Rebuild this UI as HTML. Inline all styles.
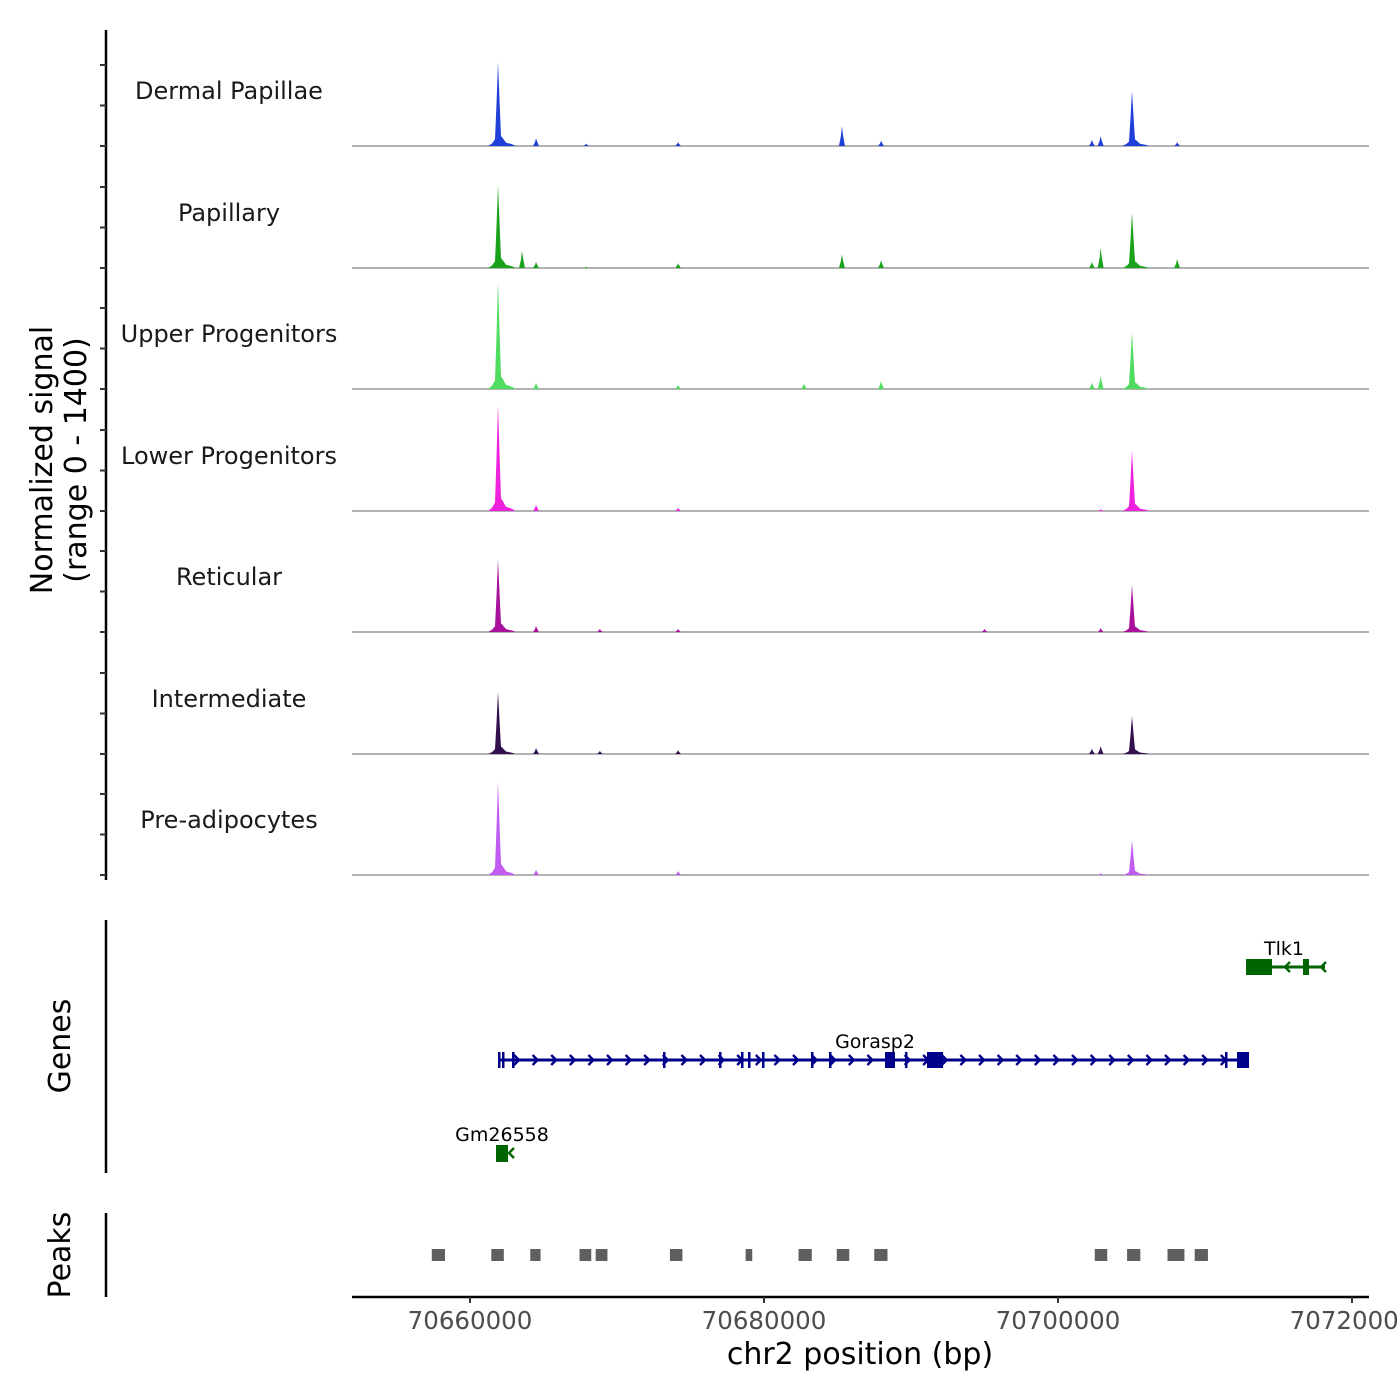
<!DOCTYPE html>
<html><head><meta charset="utf-8"><style>
html,body{margin:0;padding:0;background:#fff;}
svg{display:block;font-family:"DejaVu Sans","Liberation Sans",sans-serif;}
</style></head><body>
<svg id="chart" width="1400" height="1400" viewBox="0 0 1400 1400" xmlns="http://www.w3.org/2000/svg">
<g id="tracks"></g>
<g id="genes"></g>
<g id="peaks"></g>
<g id="axes"></g>
</svg>
<script>
const trackNames = ["Dermal Papillae","Papillary","Upper Progenitors","Lower Progenitors","Reticular","Intermediate","Pre-adipocytes"];
const trackColors = ["#1f3fd9","#1aa31a","#4fdc5f","#ee22dd","#a8119c","#34104f","#c05cf2"];
const peakPositions = [70661905,70663540,70664490,70667900,70668830,70674150,70682720,70685300,70687960,70695000,70702300,70702900,70705034,70708100];
const dermalPapillae = [970,0,90,25,0,45,0,230,60,0,70,115,640,45];
const papillary = [960,200,70,15,0,55,0,160,90,0,70,230,640,105];
const upperProgenitors = [1240,0,70,0,0,45,60,0,90,0,70,150,660,0];
const lowerProgenitors = [1230,0,70,0,0,35,0,0,0,0,0,20,700,0];
const reticular = [840,0,70,0,35,35,0,0,0,35,0,45,545,0];
const intermediate = [720,0,70,0,35,45,0,0,0,0,60,90,440,0];
const preAdipocytes = [1075,0,60,0,0,45,0,0,0,0,0,20,400,0];
const signals = [dermalPapillae,papillary,upperProgenitors,lowerProgenitors,reticular,intermediate,preAdipocytes];
const xTicks = [70660000,70680000,70700000,70720000];
const peakRegions = [[70657400,70658300],[70661450,70662300],[70664100,70664800],[70667450,70668250],[70668550,70669350],[70673600,70674450],[70678750,70679200],[70682350,70683250],[70684950,70685800],[70687500,70688400],[70702500,70703350],[70704700,70705600],[70707450,70708600],[70709300,70710200]];

const NS="http://www.w3.org/2000/svg";
function el(tag,attrs,parent,text){const e=document.createElementNS(NS,tag);for(const k in attrs)e.setAttribute(k,attrs[k]);if(text!==undefined)e.textContent=text;parent.appendChild(e);return e;}
const X=bp=>470+(bp-70660000)*294/20000;
const baselines=[146,268,389,511,632,754,875];
const Y=(v,b)=>b-v*121/1400;

const tg=document.getElementById('tracks');
signals.forEach((vals,t)=>{
  const b=baselines[t];const c=trackColors[t];
  const g=el('g',{},tg);
  
  
  const lab=el('text',{x:229,y:b-47,'text-anchor':'middle','font-size':24,fill:'#1a1a1a'},g,trackNames[t]);
  
  
  const base=el('line',{x1:352,x2:1369,y1:b,y2:b,stroke:'#666','stroke-width':1},g);
  
  
  vals.forEach((v,i)=>{
    if(v<=0)return;
    const x=X(peakPositions[i]);const h=b-Y(v,b);
    let pts;
    if(v>300){
      pts=[[x-10,0],[x-6,h*0.03],[x-3,h*0.08],[x-1.5,h*0.5],[x,h],[x+1,h*0.7],[x+2,h*0.4],[x+3,h*0.12],[x+5,h*0.09],[x+8,h*0.04],[x+14,h*0.02],[x+18,0]];
    } else {
      pts=[[x-3,0],[x-1,h*0.5],[x,h],[x+1,h*0.6],[x+3,0]];
    }
    const p=el('polygon',{points:pts.map(q=>q[0].toFixed(1)+','+(b-q[1]).toFixed(1)).join(' '),fill:c},g);
    
    
  });
});

// genes
const gg=document.getElementById('genes');
const navy="#00008b",green="#006400";
function chev(parent,x,y,dir,c){el('polyline',{points:`${x-3*dir},${y-5} ${x+2*dir},${y} ${x-3*dir},${y+5}`,fill:'none',stroke:c,'stroke-width':2.4},parent);}
const gor=el('g',{},gg);


el('line',{x1:498,x2:1245,y1:1060,y2:1060,stroke:navy,'stroke-width':3},gor);
for(let x=517;x<1230;x+=18.6)chev(gor,x,1060,1,navy);
[499,503,513,664,720,742,749,763,812,830,906,1226].forEach(x=>el('rect',{x:x-1,y:1052,width:2.5,height:16,fill:navy},gor));
[[885,10],[927,16],[1237,12]].forEach(r=>el('rect',{x:r[0],y:1052,width:r[1],height:16,fill:navy},gor));
el('text',{x:875,y:1048,'text-anchor':'middle','font-size':19,fill:'#000'},gor,'Gorasp2');
const tlk=el('g',{},gg);


el('line',{x1:1247,x2:1325,y1:967,y2:967,stroke:green,'stroke-width':3},tlk);
el('rect',{x:1246,y:959,width:26,height:16,fill:green},tlk);
el('rect',{x:1303,y:959,width:6,height:16,fill:green},tlk);
[1287,1323].forEach(x=>chev(tlk,x,967,-1,green));
el('text',{x:1284,y:955,'text-anchor':'middle','font-size':19,fill:'#000'},tlk,'Tlk1');
const gm=el('g',{},gg);


el('rect',{x:496,y:1145,width:12,height:17,fill:green},gm);
chev(gm,511,1153,-1,green);
el('text',{x:502,y:1141,'text-anchor':'middle','font-size':19,fill:'#000'},gm,'Gm26558');

// peaks
const pg=document.getElementById('peaks');
peakRegions.forEach(r=>{
  const rr=el('rect',{x:X(r[0]),y:1249,width:Math.max(X(r[1])-X(r[0]),6),height:12,fill:'#5f5f5f'},pg);
  
  
});

// axes
const ag=document.getElementById('axes');
const yl=el('line',{x1:106,x2:106,y1:30,y2:880,stroke:'#000','stroke-width':2.5},ag);


for(let t=0;t<7;t++){const b=baselines[t];for(let k=0;k<3;k++){el('line',{x1:100,x2:106,y1:b-k*40.5,y2:b-k*40.5,stroke:'#333','stroke-width':2},ag);}}
const gl=el('line',{x1:106,x2:106,y1:920,y2:1173,stroke:'#000','stroke-width':2.5},ag);


const pl=el('line',{x1:106,x2:106,y1:1213,y2:1297,stroke:'#000','stroke-width':2.5},ag);


const xl=el('line',{x1:352,x2:1369,y1:1297,y2:1297,stroke:'#000','stroke-width':2.5},ag);


xTicks.forEach(v=>{
  const x=X(v);
  el('line',{x1:x,x2:x,y1:1297,y2:1303,stroke:'#333','stroke-width':2},ag);
  const t=el('text',{x:x,y:1329,'text-anchor':'middle','font-size':24.5,fill:'#4d4d4d'},ag,String(v));
  
  
});
const xt=el('text',{x:860,y:1364,'text-anchor':'middle','font-size':30,fill:'#000'},ag,'chr2 position (bp)');


const yt=el('text',{transform:'translate(52,460) rotate(-90)','text-anchor':'middle','font-size':30,fill:'#000'},ag);


el('tspan',{x:0,dy:0},yt,'Normalized signal');
el('tspan',{x:0,dy:34},yt,'(range 0 - 1400)');
const gt=el('text',{transform:'translate(70,1046) rotate(-90)','text-anchor':'middle','font-size':30,fill:'#000'},ag,'Genes');


const ptt=el('text',{transform:'translate(70,1255) rotate(-90)','text-anchor':'middle','font-size':30,fill:'#000'},ag,'Peaks');


</script>
</body></html>
